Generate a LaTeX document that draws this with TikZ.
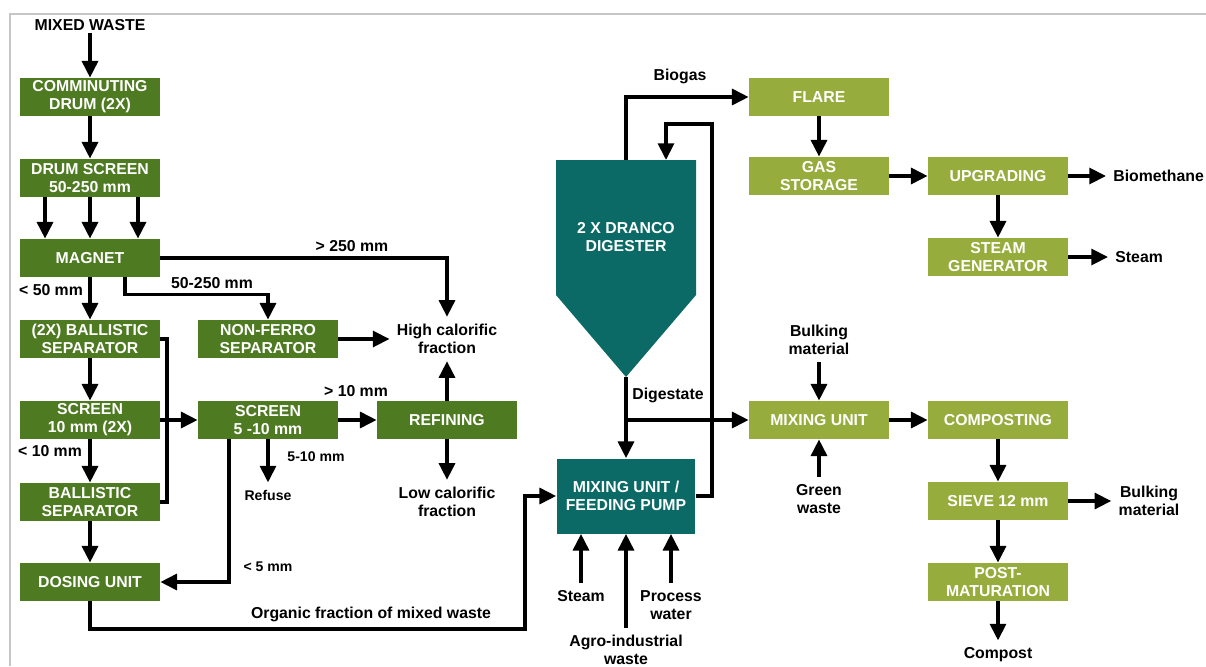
\documentclass[tikz,border=0pt]{standalone}
\usepackage{fontspec}
\setmainfont{Liberation Sans}
\usetikzlibrary{arrows.meta}
\definecolor{darkbox}{HTML}{4E7A22}
\definecolor{lightbox}{HTML}{96AC3C}
\definecolor{tealbox}{HTML}{0B6A66}

\begin{document}
\begin{tikzpicture}[x = 0.02cm, y = -0.02cm, font = \bfseries\fontsize{9}{10.2}\selectfont]
	\tikzstyle{darkStyle} = [fill = darkbox, text = white, minimum width = 2.8cm, minimum height = 0.76cm, inner sep = 0pt, align = center]
	\tikzstyle{lightStyle} = [darkStyle, fill = lightbox]
	\tikzstyle{tealStyle} = [darkStyle, fill = tealbox]
	\tikzstyle{endStyle} = [align = center, inner sep = 4pt]
	\tikzstyle{labelStyle} = [align = center, inner sep = 1pt]
	\tikzstyle{smallStyle} = [labelStyle, font = \bfseries\fontsize{8}{9.5}\selectfont]
	\tikzstyle{lineStyle} = [line width = 2.1pt]
	\tikzstyle{flowStyle} = [lineStyle, -{Triangle[length = 9.5pt, width = 9pt]}]
	\useasboundingbox (0,0) rectangle (1206,666);
	\draw[gray!45, line width = 0.6pt] (10,666) -- (10,14) -- (1206,14);
	\node[labelStyle] (mixed) at (90,25) {MIXED WASTE};
	\node[darkStyle] (comm) at (90,97) {COMMINUTING\\DRUM (2X)};
	\node[darkStyle] (dscreen) at (90,178) {DRUM SCREEN\\50-250 mm};
	\node[darkStyle] (magnet) at (90,258) {MAGNET};
	\node[darkStyle] (ball1) at (90,339) {(2X) BALLISTIC\\SEPARATOR};
	\node[darkStyle] (scr10) at (90,420) {SCREEN\\10 mm (2X)};
	\node[darkStyle] (ball2) at (90,502) {BALLISTIC\\SEPARATOR};
	\node[darkStyle] (dosing) at (90,582) {DOSING UNIT};
	\node[darkStyle] (nonferro) at (268,339) {NON-FERRO\\SEPARATOR};
	\node[darkStyle] (scr5) at (268,420) {SCREEN\\5 -10 mm};
	\node[darkStyle] (refining) at (447,420) {REFINING};
	\node[endStyle] (high) at (447,339) {High calorific\\fraction};
	\node[endStyle] (low) at (447,502) {Low calorific\\fraction};
	\node[endStyle, font = \bfseries\fontsize{8}{9.5}\selectfont] (refuse) at (268,495) {Refuse};
	\node[tealStyle, minimum width = 2.78cm, minimum height = 1.5cm] (mixpump) at (626,496) {MIXING UNIT /\\FEEDING PUMP};
	\fill[tealbox] (556,160) -- (696,160) -- (696,295) -- (626,377) -- (556,295) -- cycle;
	\node[labelStyle, text = white] (digester) at (626,237) {2 X DRANCO\\DIGESTER};
	\coordinate (digTop) at (626,160);
	\coordinate (digIn) at (666,160);
	\coordinate (digTip) at (626,377);
	\coordinate (loopTop) at (712,124);
	\coordinate (split) at (626,420);
	\coordinate (bend) at (525,629);
	\node[endStyle] (steamIn) at (581,596) {Steam};
	\node[endStyle] (agro) at (626,650) {Agro-industrial\\waste};
	\node[endStyle] (process) at (671,605) {Process\\water};
	\node[lightStyle] (flare) at (819,97) {FLARE};
	\node[lightStyle] (gas) at (819,176) {GAS\\STORAGE};
	\node[lightStyle] (upgr) at (998,176) {UPGRADING};
	\node[lightStyle] (steamgen) at (998,257) {STEAM\\GENERATOR};
	\node[lightStyle] (mixing) at (819,420) {MIXING UNIT};
	\node[lightStyle] (composting) at (998,420) {COMPOSTING};
	\node[lightStyle] (sieve) at (998,501) {SIEVE 12 mm};
	\node[lightStyle] (post) at (998,582) {POST-\\MATURATION};
	\node[endStyle, anchor = west] (biomethane) at (1106,176) {Biomethane};
	\node[endStyle, anchor = west] (steamOut) at (1108,257) {Steam};
	\node[endStyle] (bulkTop) at (819,340) {Bulking\\material};
	\node[endStyle] (green) at (819,499) {Green\\waste};
	\node[endStyle] (bulkOut) at (1149,501) {Bulking\\material};
	\node[endStyle] (compost) at (998,655) {Compost};
	\node[labelStyle] at (51,290) {< 50 mm};
	\node[labelStyle] at (212,283) {50-250 mm};
	\node[labelStyle] at (352,246) {> 250 mm};
	\node[labelStyle] at (50,451) {< 10 mm};
	\node[labelStyle] at (356,391) {> 10 mm};
	\node[smallStyle] at (316,457) {5-10 mm};
	\node[smallStyle] at (268,567) {< 5 mm};
	\node[labelStyle] at (371,614) {Organic fraction of mixed waste};
	\node[labelStyle] at (680,76) {Biogas};
	\node[labelStyle] at (668,395) {Digestate};
	\draw[flowStyle] (mixed) -- (comm);
	\draw[flowStyle] (comm) -- (dscreen);
	\draw[flowStyle] ([xshift = -0.9cm]dscreen.south) -- ([xshift = -0.9cm]magnet.north);
	\draw[flowStyle] (dscreen) -- (magnet);
	\draw[flowStyle] ([xshift = 0.96cm]dscreen.south) -- ([xshift = 0.96cm]magnet.north);
	\draw[flowStyle] (magnet) -- (ball1);
	\draw[flowStyle] ([xshift = 0.7cm]magnet.south) -- ++(0,17) -| (nonferro.north);
	\draw[flowStyle] (magnet.east) -| (high.north);
	\draw[flowStyle] (nonferro.east) -- (high.west);
	\draw[flowStyle] (ball1) -- (scr10);
	\draw[lineStyle] (ball1.east) -| ([xshift = 0.14cm]ball2.east) -- (ball2.east);
	\draw[flowStyle] (scr10.east) -- (scr5.west);
	\draw[flowStyle] (scr10) -- (ball2);
	\draw[flowStyle] (ball2) -- (dosing);
	\draw[flowStyle] (scr5) -- (refining);
	\draw[flowStyle] (scr5.south) -- (refuse.north);
	\draw[flowStyle] ([xshift = -0.78cm]scr5.south) |- (dosing.east);
	\draw[flowStyle] (refining) -- (high);
	\draw[flowStyle] (refining) -- (low);
	\draw[flowStyle] (dosing.south) |- (bend) |- (mixpump.west);
	\draw[flowStyle] (digTop) |- (flare.west);
	\draw[flowStyle] (mixpump.east) -| (loopTop) -| (digIn);
	\draw[flowStyle] (digTip) -- (mixpump.north);
	\draw[flowStyle] (split) -- (mixing.west);
	\fill (loopTop |- split) circle (3);
	\draw[flowStyle] (steamIn.north) -- (steamIn.north |- mixpump.south);
	\draw[flowStyle] (agro.north) -- (mixpump.south);
	\draw[flowStyle] (process.north) -- (process.north |- mixpump.south);
	\draw[flowStyle] (flare) -- (gas);
	\draw[flowStyle] (gas) -- (upgr);
	\draw[flowStyle] (upgr) -- (biomethane);
	\draw[flowStyle] (upgr) -- (steamgen);
	\draw[flowStyle] (steamgen) -- (steamOut);
	\draw[flowStyle] (bulkTop) -- (mixing);
	\draw[flowStyle] (green) -- (mixing);
	\draw[flowStyle] (mixing) -- (composting);
	\draw[flowStyle] (composting) -- (sieve);
	\draw[flowStyle] (sieve.east) -- (sieve.east -| bulkOut.west);
	\draw[flowStyle] (sieve) -- (post);
	\draw[flowStyle] (post) -- (compost);
\end{tikzpicture}
\end{document}
